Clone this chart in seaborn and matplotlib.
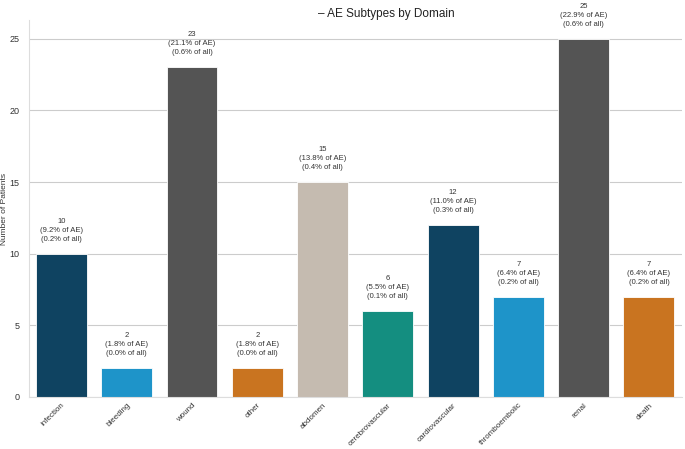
import pandas as pd
import seaborn as sns
import matplotlib.pyplot as plt

subtypes = ['infection', 'bleeding', 'wound', 'other', 'abdomen',
            'cerebrovascular', 'cardiovascular', 'thromboembolic', 'renal', 'death']
patients = [10, 2, 23, 2, 15, 6, 12, 7, 25, 7]
pct_ae = [9.2, 1.8, 21.1, 1.8, 13.8, 5.5, 11.0, 6.4, 22.9, 6.4]
pct_all = [0.2, 0.0, 0.6, 0.0, 0.4, 0.1, 0.3, 0.2, 0.6, 0.2]
bar_colors = ['#0f4361', '#1e94c9', '#545454', '#c97420', '#c5bbb0',
              '#148e80', '#0f4361', '#1e94c9', '#545454', '#c97420']

df = pd.DataFrame({'subtype': subtypes, 'n': patients})

sns.set_style('whitegrid')
plt.rcParams['font.family'] = ['Liberation Sans', 'DejaVu Sans']

fig, ax = plt.subplots(figsize=(6.85, 4.49), dpi=100)
fig.subplots_adjust(left=0.042, right=0.995, bottom=0.116, top=0.955)

sns.barplot(data=df, x='subtype', y='n', hue='subtype', palette=bar_colors,
            legend=False, ax=ax, width=0.78, saturation=1,
            edgecolor='white', linewidth=0.6)

for i, (n, a, b) in enumerate(zip(patients, pct_ae, pct_all)):
    ax.annotate(f'{n}\n({a:.1f}% of AE)\n({b:.1f}% of all)', (i, n),
                xytext=(0, 8), textcoords='offset points',
                ha='center', va='bottom', fontsize=5.5, color='#333333',
                linespacing=1.4)

ax.set_ylim(0, 26.3)
ax.set_xlabel('')
ax.set_ylabel('Number of Patients', fontsize=6, color='#333333', labelpad=1)
ax.set_title('– AE Subtypes by Domain', fontsize=8.5, x=0.548, color='#222222',
             pad=2.5)
ax.tick_params(axis='y', labelsize=6.5, pad=3, labelcolor='#333333')
ax.tick_params(axis='x', labelsize=5.8, pad=0, labelcolor='#333333')
plt.setp(ax.get_xticklabels(), rotation=45, ha='right', rotation_mode='anchor')
ax.grid(axis='x', visible=False)
sns.despine(ax=ax)
for s in ['left', 'bottom']:
    ax.spines[s].set_color('#dddddd')

plt.savefig('out.png')
